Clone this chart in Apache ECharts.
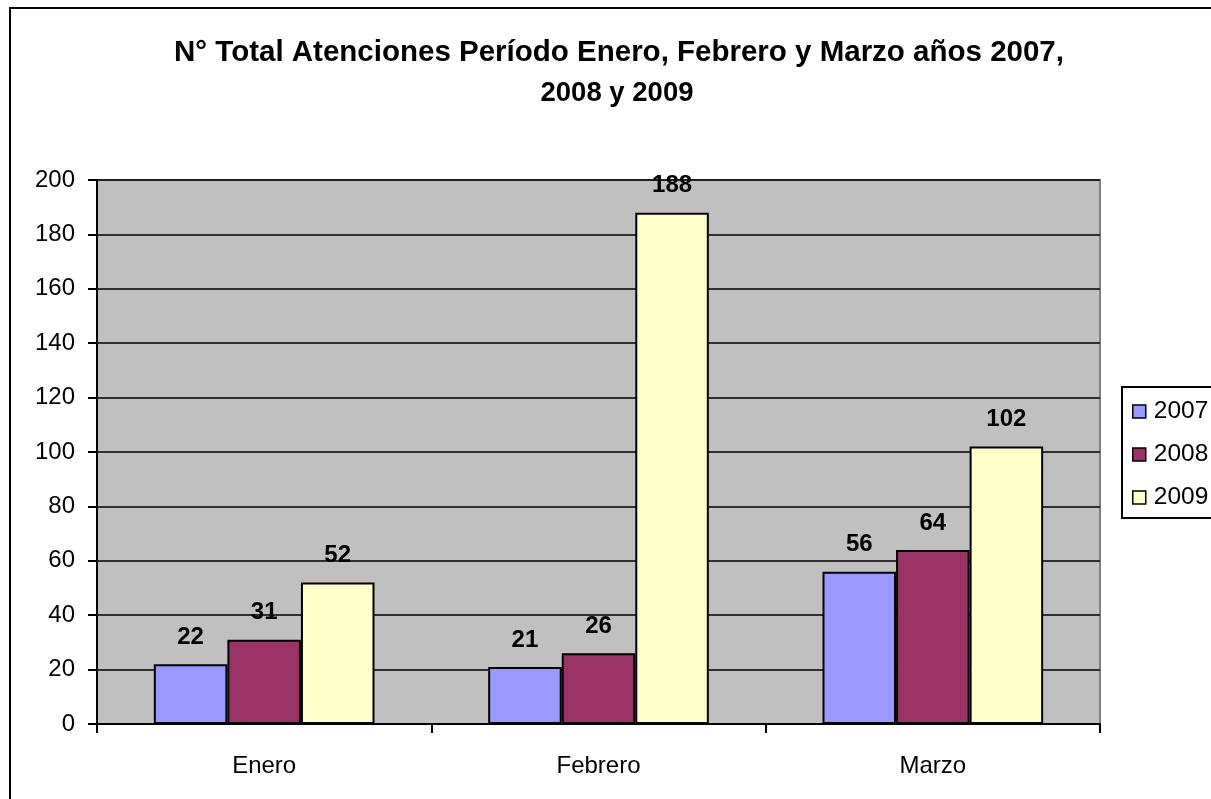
<!DOCTYPE html>
<html>
<head>
<meta charset="utf-8">
<script src="https://cdn.jsdelivr.net/npm/echarts@6/dist/echarts.min.js"></script>
<style>
html,body{margin:0;padding:0;background:#fff;}
#chart{width:1211px;height:799px;}
</style>
</head>
<body>
<div id="chart"></div>
<script>
const categories = ['Enero', 'Febrero', 'Marzo'];
const seriesNames = ['2007', '2008', '2009'];
const values2007 = [22, 21, 56];
const values2008 = [31, 26, 64];
const values2009 = [52, 188, 102];
const titleLines = ['N° Total Atenciones Período Enero, Febrero y Marzo años 2007,', '2008 y 2009'];
const colors = ['#9999FF', '#993366', '#FFFFCC'];
const allValues = [values2007, values2008, values2009];

const FONT = '"Liberation Sans", Arial, sans-serif';
const chart = echarts.init(document.getElementById('chart'));

const series = seriesNames.map((name, i) => ({
  name: name,
  type: 'bar',
  data: allValues[i],
  barGap: '0%',
  barCategoryGap: '34%',
  itemStyle: { color: colors[i], borderColor: '#000', borderWidth: 2 },
  label: {
    show: true, position: 'top', distance: 15,
    color: '#000', fontFamily: FONT, fontWeight: 'bold', fontSize: 24
  },
  emphasis: { disabled: true }
}));

chart.setOption({
  animation: false,
  backgroundColor: '#fff',
  graphic: [
    { type: 'rect', silent: true, z: 0,
      shape: { x: 10, y: 8, width: 1300, height: 900 },
      style: { fill: 'none', stroke: '#000', lineWidth: 2 } },
    { type: 'text', silent: true,
      style: { x: 619, y: 53, text: titleLines[0], align: 'center', verticalAlign: 'middle',
        fontFamily: FONT, fontWeight: 'bold', fontSize: 29.5, fill: '#000' } },
    { type: 'text', silent: true,
      style: { x: 617, y: 93, text: titleLines[1], align: 'center', verticalAlign: 'middle',
        fontFamily: FONT, fontWeight: 'bold', fontSize: 27.5, fill: '#000' } }
  ],
  legend: {
    orient: 'vertical', left: 1122, top: 387,
    data: seriesNames,
    padding: [12, 40, 8, 10],
    itemGap: 18,
    itemWidth: 13, itemHeight: 13,
    icon: 'rect',
    backgroundColor: '#fff', borderColor: '#000', borderWidth: 2, borderRadius: 0,
    itemStyle: { borderColor: '#000', borderWidth: 1.5 },
    textStyle: { fontFamily: FONT, fontSize: 24.5, color: '#000', padding: [0, 0, 0, 3] }
  },
  grid: {
    left: 97, right: 111, top: 180, bottom: 75,
    show: true, backgroundColor: '#C0C0C0', borderColor: '#808080', borderWidth: 2
  },
  xAxis: {
    type: 'category', data: categories,
    axisLine: { lineStyle: { color: '#000', width: 2 } },
    axisTick: { show: true, length: 9, lineStyle: { color: '#000', width: 2 } },
    axisLabel: { fontFamily: FONT, fontSize: 24, color: '#000', margin: 30 }
  },
  yAxis: {
    type: 'value', min: 0, max: 200, interval: 20,
    axisLine: { show: true, lineStyle: { color: '#000', width: 2 } },
    axisTick: { show: true, length: 9, lineStyle: { color: '#000', width: 2 } },
    axisLabel: { fontFamily: FONT, fontSize: 24, color: '#000', margin: 22 },
    splitLine: { show: true, lineStyle: { color: '#000', width: 1.5 } }
  },
  series: series
});
</script>
</body>
</html>
